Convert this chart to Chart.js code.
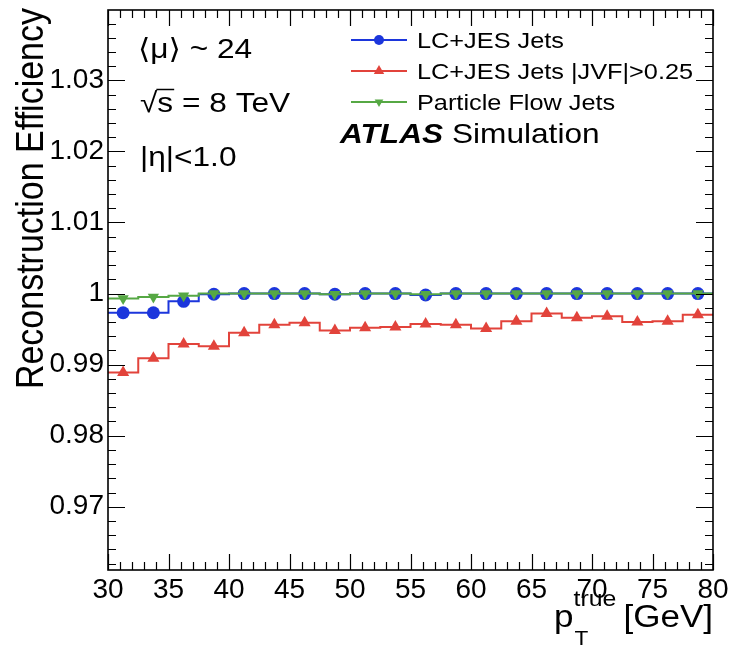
<!DOCTYPE html>
<html>
<head>
<meta charset="utf-8">
<script src="https://cdn.jsdelivr.net/npm/chart.js@4.4.1/dist/chart.umd.min.js"></script>
<style>
    html, body { margin: 0; padding: 0; background: #fff; }
    #wrap { width: 731px; height: 655px; position: relative; }
</style>
</head>
<body>
<div id="wrap"><canvas id="effChart"></canvas></div>
<script>
    // bin centres (2.5 GeV bins from 30 to 80)
    const binCenters = [31.25, 33.75, 36.25, 38.75, 41.25, 43.75, 46.25, 48.75, 51.25, 53.75,
                        56.25, 58.75, 61.25, 63.75, 66.25, 68.75, 71.25, 73.75, 76.25, 78.75];

    const lcJes = [0.9973, 0.9973, 0.9989, 0.9999, 1.0000, 1.0000, 1.0000, 0.9999, 1.0000, 1.0000,
                   0.9998, 1.0000, 1.0000, 1.0000, 1.0000, 1.0000, 1.0000, 1.0000, 1.0000, 1.0000];
    const lcJesJvf = [0.9889, 0.9909, 0.9929, 0.9926, 0.9945, 0.9956, 0.9959, 0.9948, 0.9952, 0.9953,
                      0.9957, 0.9956, 0.9951, 0.9961, 0.9972, 0.9966, 0.9968, 0.9960, 0.9961, 0.9970];
    const pflow = [0.9993, 0.9995, 0.9997, 1.0000, 1.0000, 1.0000, 1.0000, 0.9999, 1.0000, 1.0000,
                   0.9999, 1.0000, 1.0000, 1.0000, 1.0000, 1.0000, 1.0000, 1.0000, 1.0000, 1.0000];

    const xTicks = [30, 35, 40, 45, 50, 55, 60, 65, 70, 75, 80];
    const yTicks = [0.97, 0.98, 0.99, 1, 1.01, 1.02, 1.03];

    const X_MIN = 30, X_MAX = 80;
    const Y_MIN = 0.9611, Y_MAX = 1.0399;

    const BLUE = '#1c36dc';
    const RED = '#e2433b';
    const GREEN = '#56a844';
    const FONT = '"Liberation Sans", Arial, "DejaVu Sans", sans-serif';

    // step histogram: extend the first/last bin out to the axis edges
    function histPoints(vals) {
        const pts = binCenters.map((x, i) => ({ x: x, y: vals[i] }));
        pts.unshift({ x: X_MIN, y: vals[0], edge: true });
        pts.push({ x: X_MAX, y: vals[vals.length - 1], edge: true });
        return pts;
    }

    function txt(ctx, s, x, y, font, align, sx) {
        ctx.save();
        ctx.translate(x, y);
        ctx.scale(sx || 1.13, 1);
        ctx.font = font;
        ctx.textAlign = align || 'left';
        ctx.textBaseline = 'alphabetic';
        ctx.fillText(s, 0, 0);
        const w = ctx.measureText(s).width * (sx || 1.13);
        ctx.restore();
        return w;
    }

    const rootFrame = {
        id: 'rootFrame',
        afterDraw(chart) {
            const ctx = chart.ctx;
            const a = chart.chartArea;
            const xs = chart.scales.x, ys = chart.scales.y;
            ctx.save();
            ctx.strokeStyle = '#000';
            ctx.fillStyle = '#000';

            // ticks on all four sides, pointing inwards
            ctx.lineWidth = 1.2;
            ctx.beginPath();
            for (let k = Math.ceil(Y_MIN / 0.002 - 1e-6); k <= Math.floor(Y_MAX / 0.002 + 1e-6); k++) {
                const py = Math.round(ys.getPixelForValue(k * 0.002)) + 0.5;
                const len = (k % 5 === 0) ? 17 : 8;
                ctx.moveTo(a.left, py); ctx.lineTo(a.left + len, py);
                ctx.moveTo(a.right, py); ctx.lineTo(a.right - len, py);
            }
            for (let k = X_MIN; k <= X_MAX; k++) {
                const px = Math.round(xs.getPixelForValue(k)) + 0.5;
                const len = (k % 5 === 0) ? 16 : 8;
                ctx.moveTo(px, a.bottom); ctx.lineTo(px, a.bottom - len);
                ctx.moveTo(px, a.top); ctx.lineTo(px, a.top + len);
            }
            ctx.stroke();

            ctx.lineWidth = 1.6;
            ctx.strokeRect(a.left, a.top, a.right - a.left, a.bottom - a.top);

            // axis titles
            ctx.save();
            ctx.translate(43, a.top - 2);
            ctx.rotate(-Math.PI / 2);
            ctx.scale(1, 1.13);
            ctx.font = '34px ' + FONT;
            ctx.textAlign = 'right';
            ctx.fillText('Reconstruction Efficiency', 0, 0);
            ctx.restore();

            const wGev = txt(ctx, '[GeV]', a.right, 627, '31px ' + FONT, 'right');
            const xTrueEnd = a.right - wGev - 7;
            const wTrue = txt(ctx, 'true', xTrueEnd, 606, '22px ' + FONT, 'right');
            const xP = xTrueEnd - wTrue;
            txt(ctx, 'p', xP, 627, '31px ' + FONT, 'right');
            txt(ctx, 'T', xP + 1, 645, '20px ' + FONT, 'left');

            // labels
            txt(ctx, '\u27E8\u03BC\u27E9 ~ 24', 138, 58, '28px ' + FONT, 'left');
            const wSq = txt(ctx, '\u221A', 140, 112, '28px ' + FONT, 'left');
            const wS = txt(ctx, 's', 140 + wSq, 112, '28px ' + FONT, 'left');
            ctx.lineWidth = 1.5;
            ctx.beginPath();
            ctx.moveTo(140 + wSq - 1, 89.5); ctx.lineTo(140 + wSq + wS + 1, 89.5);
            ctx.stroke();
            txt(ctx, ' = 8 TeV', 140 + wSq + wS, 112, '28px ' + FONT, 'left');
            txt(ctx, '|\u03B7|<1.0', 140, 166, '28px ' + FONT, 'left');

            const wAtlas = txt(ctx, 'ATLAS', 340, 143, 'italic bold 28px ' + FONT, 'left');
            txt(ctx, ' Simulation', 340 + wAtlas, 143, '28px ' + FONT, 'left');

            // legend built from the datasets
            const rowsY = [40, 71, 102];
            chart.data.datasets.forEach((ds, r) => {
                const y = rowsY[r];
                ctx.strokeStyle = ds.borderColor;
                ctx.fillStyle = ds.backgroundColor;
                ctx.lineWidth = 2;
                ctx.beginPath();
                ctx.moveTo(351, y); ctx.lineTo(407, y);
                ctx.stroke();
                Chart.helpers.drawPoint(ctx, {
                    pointStyle: ds.pointStyle, radius: ds.legendRadius,
                    rotation: ds.pointRotation || 0, borderWidth: 0
                }, 379, y);
                ctx.fillStyle = '#000';
                txt(ctx, ds.label, 417, y + 8, '22px ' + FONT, 'left', 1.15);
            });
            ctx.restore();
        }
    };

    const ptRadius = r => (c => (c.raw && c.raw.edge) ? 0 : r);

    const data = {
        datasets: [
            {
                label: 'LC+JES Jets',
                data: histPoints(lcJes),
                borderColor: BLUE,
                backgroundColor: BLUE,
                pointStyle: 'circle',
                pointRadius: ptRadius(6.5),
                legendRadius: 5,
                order: 1
            },
            {
                label: 'LC+JES Jets |JVF|>0.25',
                data: histPoints(lcJesJvf),
                borderColor: RED,
                backgroundColor: RED,
                pointStyle: 'triangle',
                pointRadius: ptRadius(7),
                legendRadius: 6,
                order: 2
            },
            {
                label: 'Particle Flow Jets',
                data: histPoints(pflow),
                borderColor: GREEN,
                backgroundColor: GREEN,
                pointStyle: 'triangle',
                pointRotation: 180,
                pointRadius: ptRadius(6.5),
                legendRadius: 5,
                order: 0
            }
        ]
    };

    const options = {
        responsive: true,
        maintainAspectRatio: false,
        animation: false,
        layout: { padding: { top: 10, right: 18, left: 0, bottom: 0 } },
        elements: {
            line: { borderWidth: 2, stepped: 'middle', tension: 0 },
            point: { borderWidth: 0, hoverRadius: 6 }
        },
        plugins: {
            legend: { display: false },
            tooltip: { enabled: false }
        },
        scales: {
            x: {
                type: 'linear',
                min: X_MIN,
                max: X_MAX,
                grid: { display: false, drawTicks: false },
                border: { display: false },
                afterBuildTicks: s => { s.ticks = xTicks.map(v => ({ value: v })); },
                afterFit: s => { s.height = 85; s.paddingLeft = 0; s.paddingRight = 0; },
                ticks: {
                    color: '#000',
                    padding: 3,
                    maxRotation: 0,
                    font: { family: FONT, size: 28 }
                }
            },
            y: {
                type: 'linear',
                min: Y_MIN,
                max: Y_MAX,
                grid: { display: false, drawTicks: false },
                border: { display: false },
                afterBuildTicks: s => { s.ticks = yTicks.map(v => ({ value: v })); },
                afterFit: s => { s.width = 108; s.paddingTop = 0; s.paddingBottom = 0; },
                ticks: {
                    color: '#000',
                    padding: 4,
                    font: { family: FONT, size: 28 },
                    callback: v => String(Number(v.toFixed(2)))
                }
            }
        }
    };

    new Chart(document.getElementById('effChart').getContext('2d'), {
        type: 'line',
        data: data,
        options: options,
        plugins: [rootFrame]
    });
</script>
</body>
</html>
